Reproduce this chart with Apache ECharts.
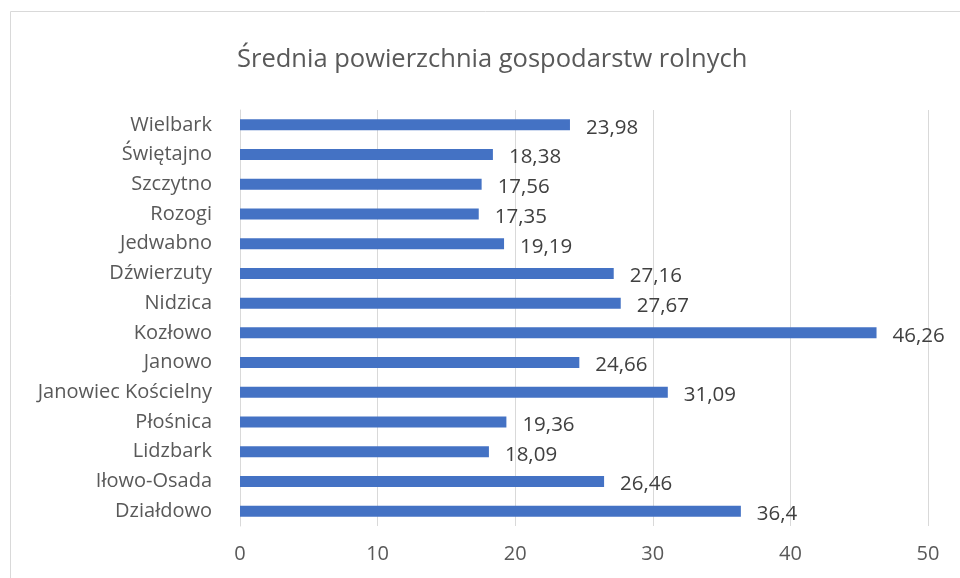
<!DOCTYPE html>
<html>
<head>
<meta charset="utf-8">
<script src="https://cdn.jsdelivr.net/npm/echarts@6/dist/echarts.min.js"></script>
<style>
html, body { margin: 0; padding: 0; background: #fff; }
#main { width: 960px; height: 578px; }
</style>
</head>
<body>
<div id="main"></div>
<script>
var gminy = ['Wielbark', 'Świętajno', 'Szczytno', 'Rozogi', 'Jedwabno', 'Dźwierzuty', 'Nidzica', 'Kozłowo', 'Janowo', 'Janowiec Kościelny', 'Płośnica', 'Lidzbark', 'Iłowo-Osada', 'Działdowo'];
var powierzchnia = [23.98, 18.38, 17.56, 17.35, 19.19, 27.16, 27.67, 46.26, 24.66, 31.09, 19.36, 18.09, 26.46, 36.4];
var xTicks = [0, 10, 20, 30, 40, 50];

var main = echarts.init(document.getElementById('main'));

var option = {
	animation: false,
	textStyle: { fontFamily: '"Open Sans", "Noto Sans", sans-serif' },
	graphic: [{
		type: 'rect',
		shape: { x: 10.5, y: 11.5, width: 1000, height: 700 },
		style: { fill: 'none', stroke: '#d9d9d9', lineWidth: 1 },
		silent: true
	}],
	title: {
		text: 'Średnia powierzchnia gospodarstw rolnych',
		left: 232,
		top: 42,
		textStyle: { fontSize: 25.5, fontWeight: 'normal', color: '#595959' }
	},
	grid: { left: 240, right: 32, top: 110, bottom: 52, containLabel: false },
	xAxis: {
		type: 'value',
		min: xTicks[0],
		max: xTicks[xTicks.length - 1],
		interval: 10,
		axisLine: { show: false },
		axisTick: { show: false },
		splitLine: { lineStyle: { color: '#d9d9d9', width: 1 } },
		axisLabel: { fontSize: 20, color: '#595959', margin: 18 }
	},
	yAxis: {
		type: 'category',
		data: gminy,
		inverse: true,
		axisLine: { show: true, lineStyle: { color: '#d9d9d9' } },
		axisTick: { show: false },
		axisLabel: { fontSize: 20, color: '#595959', margin: 28 }
	},
	series: [{
		type: 'bar',
		data: powierzchnia,
		barWidth: 11,
		itemStyle: { color: '#4472c4' },
		label: {
			show: true,
			position: 'right',
			distance: 16,
			offset: [0, 3],
			fontSize: 20.5,
			color: '#404040',
			formatter: function (p) {
				return String(p.value).replace('.', ',');
			}
		}
	}]
};
main.setOption(option);
</script>
</body>
</html>
